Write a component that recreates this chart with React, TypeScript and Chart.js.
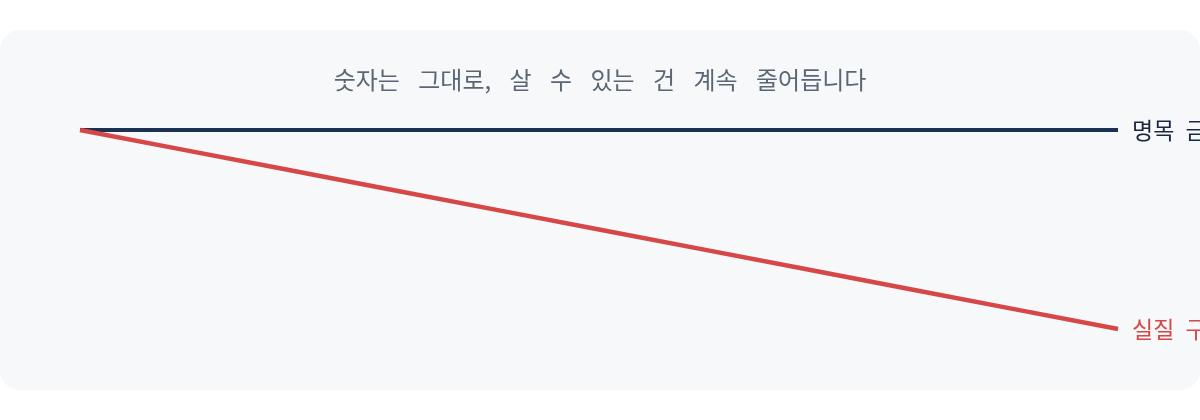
import { useEffect, useRef } from "react"
import { Chart, registerables } from "chart.js"

Chart.register(...registerables)

const years = ["2014", "2015", "2016", "2017", "2018", "2019", "2020", "2021", "2022", "2023", "2024"]
const nominalValues = [100, 100, 100, 100, 100, 100, 100, 100, 100, 100, 100]
const realValues = [100, 97.6, 95.2, 92.8, 90.4, 88, 85.6, 83.2, 80.8, 78.4, 76]
const seriesNames = ["명목 금액", "실질 구매력"]
const titleText = "숫자는 그대로, 살 수 있는 건 계속 줄어듭니다"

const NAVY = "#1b3152"
const RED = "#d64747"
const FONT = "'Noto Sans CJK KR', 'Noto Sans', sans-serif"

// title drawn by hand so the word gaps can be widened like the original
const spacedTitle = {
  id: "spacedTitle",
  afterDraw(chart: Chart) {
    const ctx: any = chart.ctx
    ctx.save()
    ctx.font = `24px ${FONT}`
    ctx.fillStyle = "#5b6675"
    ctx.textAlign = "center"
    ctx.textBaseline = "middle"
    ctx.wordSpacing = "13px"
    ctx.fillText(titleText, chart.width / 2, 50)
    ctx.restore()
  },
}

// series name just right of each line's last point
const endLabels = {
  id: "endLabels",
  afterDatasetsDraw(chart: Chart) {
    const ctx: any = chart.ctx
    ctx.save()
    ctx.font = `23px ${FONT}`
    ctx.textBaseline = "middle"
    ctx.textAlign = "left"
    ctx.wordSpacing = "6px"
    chart.data.datasets.forEach((ds: any, i: number) => {
      const meta = chart.getDatasetMeta(i)
      const last = meta.data[meta.data.length - 1]
      if (!last) return
      ctx.fillStyle = ds.labelColor
      ctx.fillText(ds.label, last.x + 14, last.y)
    })
    ctx.restore()
  },
}

const App = () => {
  const canvasRef = useRef<HTMLCanvasElement>(null)

  useEffect(() => {
    const el = canvasRef.current
    if (!el) return
    const ctx = el.getContext("2d")
    if (!ctx) return

    const chart = new Chart(ctx, {
      type: "line",
      data: {
        labels: years,
        datasets: [
          {
            label: seriesNames[0],
            data: nominalValues,
            borderColor: NAVY,
            borderWidth: 4,
            pointRadius: 0,
            tension: 0,
            order: 2,
            clip: false,
            labelColor: "#1a2740",
          } as any,
          {
            label: seriesNames[1],
            data: realValues,
            borderColor: RED,
            borderWidth: 4.5,
            pointRadius: 0,
            tension: 0,
            order: 1,
            clip: false,
            labelColor: RED,
          } as any,
        ],
      },
      options: {
        responsive: true,
        maintainAspectRatio: false,
        animation: false,
        layout: { padding: { left: 80, right: 82, top: 100, bottom: 61 } },
        plugins: {
          legend: { display: false },
          tooltip: { enabled: false },
          title: { display: false },
        },
        scales: {
          x: { display: false, offset: false },
          y: { display: false, min: 76, max: 100 },
        },
      },
      plugins: [endLabels, spacedTitle],
    })

    return () => chart.destroy()
  }, [])

  return (
    <div
      style={{
        position: "absolute",
        left: 0,
        top: 30,
        width: 1200,
        height: 360,
        background: "#f7f8fa",
        borderRadius: 20,
        overflow: "hidden",
      }}
    >
      <canvas ref={canvasRef} />
    </div>
  )
}

export default App
